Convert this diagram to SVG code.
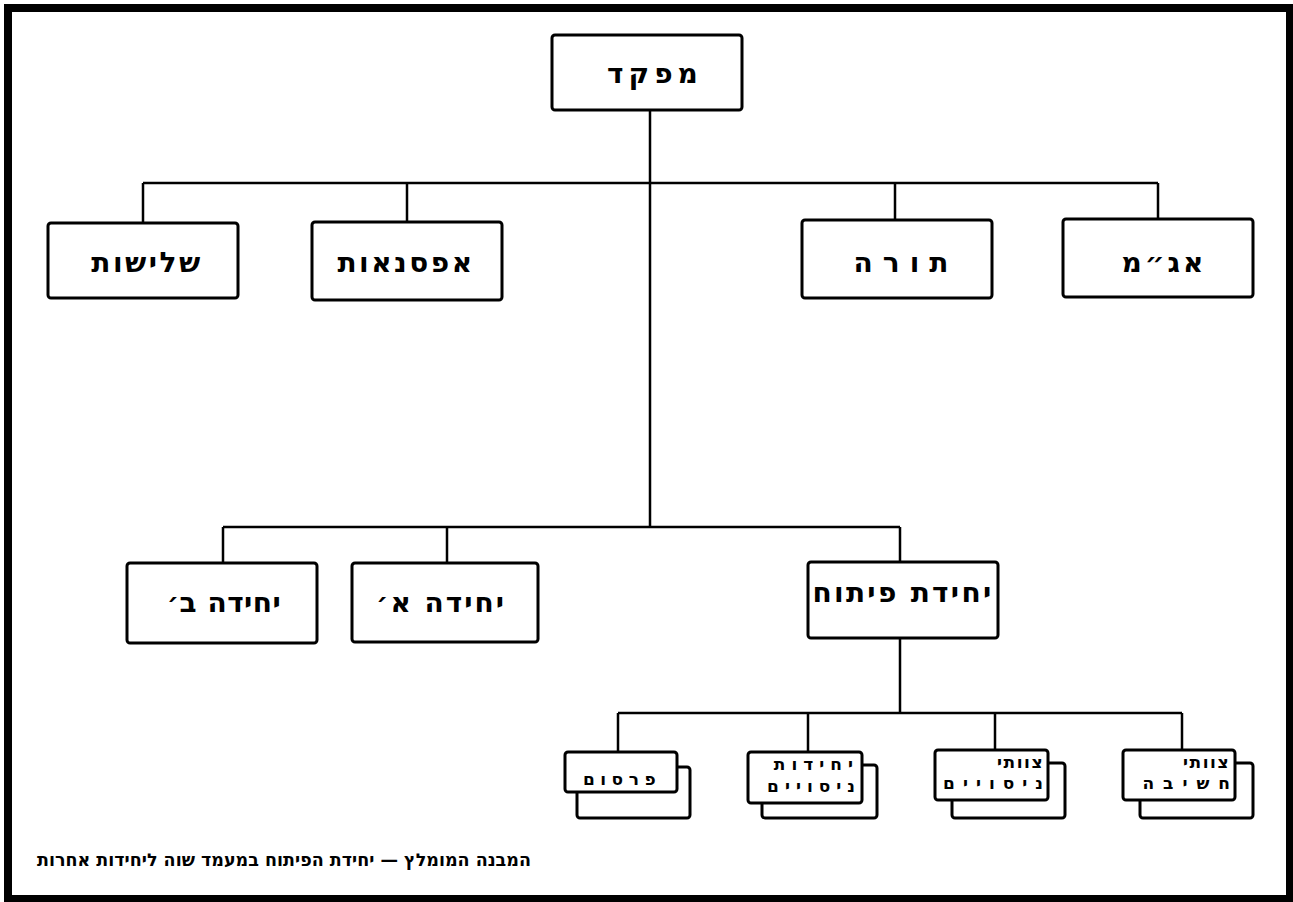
<svg xmlns="http://www.w3.org/2000/svg" width="1293" height="902" viewBox="0 0 1293 902">
<style>
.box{fill:#fff;stroke:#000;stroke-width:3}
.sh{fill:#fff;stroke:#000;stroke-width:3}
.ln{fill:none;stroke:#000;stroke-width:2.5}
.big{font-family:"DejaVu Sans","Liberation Sans",sans-serif;font-weight:bold;font-size:28px;letter-spacing:3px;text-anchor:middle;fill:#000}
.sm{font-family:"DejaVu Sans","Liberation Sans",sans-serif;font-weight:bold;font-size:17px;letter-spacing:6px;text-anchor:end;fill:#000}
.cap{font-family:"DejaVu Sans","Liberation Sans",sans-serif;font-weight:bold;font-size:17.5px;text-anchor:middle;fill:#000}
</style>
<rect width="1293" height="902" fill="#fff"/>
<rect x="8" y="8" width="1282" height="891" fill="none" stroke="#000" stroke-width="8"/>
<g id="connectors">
<path class="ln" d="M650 110V527M143 183H1158M143 183V223M407 183V222M895 183V220M1158 183V219"/>
<path class="ln" d="M223 527H900M223 527V563M447 527V563M900 527V562"/>
<path class="ln" d="M900 638V713M618 713H1182M618 713V752M808 713V752M995 713V750M1182 713V750"/>
</g>
<g id="n-mefaked"><rect class="box" x="552" y="35" width="190" height="75" rx="3"/><text class="big" x="655" y="83" style="letter-spacing:5px">מפקד</text></g>
<g id="n-shalishut"><rect class="box" x="48" y="223" width="190" height="75" rx="3"/><text class="big" x="147" y="272" style="letter-spacing:2.5px">שלישות</text></g>
<g id="n-afsanaut"><rect class="box" x="312" y="222" width="190" height="78" rx="3"/><text class="big" x="406" y="272" style="letter-spacing:2.5px">אפסנאות</text></g>
<g id="n-tora"><rect class="box" x="802" y="220" width="190" height="78" rx="3"/><text class="big" x="906" y="272" style="letter-spacing:10px">תורה</text></g>
<g id="n-agam"><rect class="box" x="1063" y="219" width="190" height="78" rx="3"/><text class="big" x="1164" y="272" style="letter-spacing:3px">אג״מ</text></g>
<g id="n-yechida-b"><rect class="box" x="127" y="563" width="190" height="80" rx="3"/><text class="big" x="224" y="612" style="letter-spacing:0.5px">יחידה ב׳</text></g>
<g id="n-yechida-a"><rect class="box" x="352" y="563" width="186" height="79" rx="3"/><text class="big" x="441" y="612" style="letter-spacing:2px">יחידה א׳</text></g>
<g id="n-pituach"><rect class="box" x="808" y="562" width="190" height="76" rx="3"/><text class="big" x="903" y="602" style="letter-spacing:2.3px">יחידת פיתוח</text></g>
<g id="n-pirsum"><rect class="sh" x="577" y="767" width="113" height="51" rx="3"/><rect class="box" x="565" y="752" width="112" height="40" rx="3"/><text class="sm" x="622" y="785" style="text-anchor:middle;letter-spacing:5.5px">פרסום</text></g>
<g id="n-yechidot-nisuyim"><rect class="sh" x="762" y="765" width="115" height="53" rx="3"/><rect class="box" x="748" y="752" width="114" height="51" rx="3"/><text class="sm" x="859" y="770" style="letter-spacing:6px">יחידות</text><text class="sm" x="861" y="792" style="letter-spacing:6px">ניסויים</text></g>
<g id="n-tzevatei-nisuyim"><rect class="sh" x="952" y="763" width="113" height="55" rx="3"/><rect class="box" x="935" y="750" width="113" height="50" rx="3"/><text class="sm" x="1044" y="768" style="letter-spacing:1.5px">צוותי</text><text class="sm" x="1051" y="789" style="letter-spacing:8px">ניסויים</text></g>
<g id="n-tzevatei-chashiva"><rect class="sh" x="1140" y="763" width="113" height="55" rx="3"/><rect class="box" x="1123" y="750" width="112" height="50" rx="3"/><text class="sm" x="1230" y="768" style="letter-spacing:1.5px">צוותי</text><text class="sm" x="1239" y="789" style="letter-spacing:9px">חשיבה</text></g>
<text class="cap" x="284" y="866">המבנה המומלץ — יחידת הפיתוח במעמד שוה ליחידות אחרות</text>
</svg>
